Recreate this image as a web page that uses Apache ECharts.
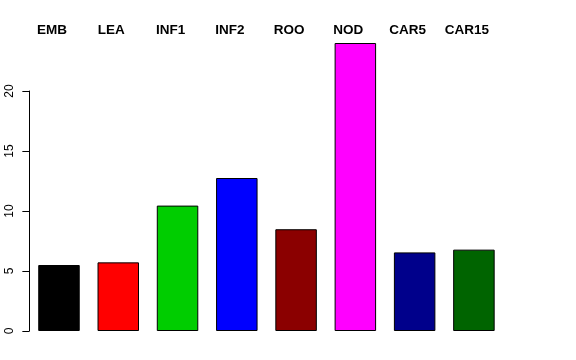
<!DOCTYPE html>
<html>
<head>
<meta charset="utf-8">
<script src="https://cdn.jsdelivr.net/npm/echarts@6/dist/echarts.min.js"></script>
<style>html,body{margin:0;padding:0;background:#fff}#c{width:576px;height:360px}</style>
</head>
<body>
<div id="c"></div>
<script>
var categories = ["EMB", "LEA", "INF1", "INF2", "ROO", "NOD", "CAR5", "CAR15"];
var values = [5.5, 5.72, 10.45, 12.75, 8.48, 24.0, 6.55, 6.78];
var barColors = ["#000000", "#FF0000", "#00CD00", "#0000FF", "#8B0000", "#FF00FF", "#00008B", "#006400"];
var yTicks = [0, 5, 10, 15, 20];

var chart = echarts.init(document.getElementById('c'), null, {renderer: 'canvas'});
chart.setOption({
  animation: false,
  backgroundColor: '#ffffff',
  grid: {left: 29.35, right: 72.45, top: 91, bottom: 29, containLabel: false},
  xAxis: {
    type: 'category',
    data: categories,
    position: 'top',
    offset: 54,
    axisLine: {show: false},
    axisTick: {show: false},
    axisLabel: {
      margin: 0,
      color: '#000',
      fontFamily: 'Liberation Sans, Arial, sans-serif',
      fontWeight: 'bold',
      fontSize: 13.5,
      padding: [0, 14, 0, 0]
    }
  },
  yAxis: {
    type: 'value',
    min: yTicks[0],
    max: yTicks[yTicks.length - 1],
    interval: 5,
    splitLine: {show: false},
    axisLine: {show: true, lineStyle: {color: '#000', width: 1}},
    axisTick: {show: true, length: 7, lineStyle: {color: '#000'}},
    axisLabel: {
      rotate: 90,
      margin: 14,
      color: '#000',
      fontFamily: 'Liberation Sans, Arial, sans-serif',
      fontSize: 12
    }
  },
  series: [{
    type: 'bar',
    clip: false,
    barWidth: '70%',
    data: values.map(function (v, i) {
      return {value: v, itemStyle: {color: barColors[i]}};
    }),
    itemStyle: {borderColor: '#000', borderWidth: 1}
  }]
});
</script>
</body>
</html>
